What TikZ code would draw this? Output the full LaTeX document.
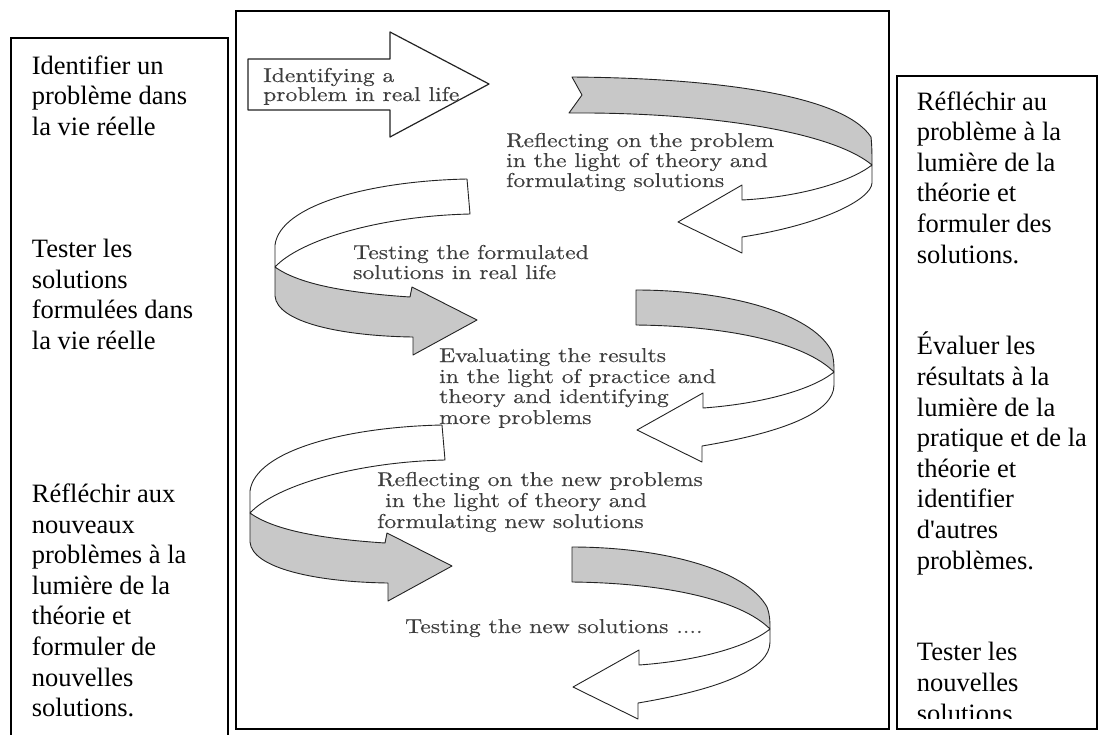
\documentclass[tikz,border=0pt]{standalone}
\usepackage{fontspec}
\newfontfamily\boxfont[Ligatures={TeXOff,CommonOff}]{Liberation Serif}
\newfontfamily\figfont[FakeStretch=1.18,FakeBold=0.35]{lmroman10-regular.otf}
\definecolor{ribbongray}{RGB}{200,200,200}
\definecolor{figtext}{RGB}{62,62,62}
\definecolor{outline}{RGB}{35,35,35}

\tikzset{
  boxframe/.style={draw=black, line width=1.6pt},
  ribbon/.style={draw=outline, line width=0.9pt, line join=round},
  backside/.style={ribbon, fill=ribbongray},
  frontside/.style={ribbon, fill=white},
  sidetext/.style={anchor=base west, inner sep=0pt,
    font=\boxfont\fontsize{26.5}{30.6}\selectfont},
  steptext/.style={anchor=base west, inner sep=0pt, text=figtext,
    font=\figfont\fontsize{20}{21}\selectfont},
}

% ribbon curling round to the right and coming back as a left-pointing arrow
\newcommand\rightcurl{%
  \filldraw[backside] (636,290) .. controls (725,290) and (810,312) .. (831,350)
    .. controls (834,358) and (834,365) .. (834,372)
    .. controls (805,343) and (730,326) .. (636,325) -- cycle;
  \filldraw[frontside] (834,372) .. controls (812,390) and (760,404) .. (703,408)
    -- (703,393) -- (637,430) -- (702,462) -- (702,446)
    .. controls (785,432) and (834,412) .. (834,385) -- cycle;
}
% ribbon curling round to the left and coming back as a right-pointing arrow
\newcommand\leftcurl{%
  \filldraw[frontside] (467,179) .. controls (370,181) and (280,205) .. (275,245)
    -- (275,267) .. controls (300,240) and (380,216) .. (470,214) -- cycle;
  \filldraw[backside] (275,267) .. controls (300,285) and (350,293) .. (410,297)
    -- (412,287) -- (477,320) -- (413,355) -- (413,337)
    .. controls (340,336) and (277,322) .. (275,296) -- cycle;
}

\begin{document}
\begin{tikzpicture}[x=1pt,y=-1pt]
\useasboundingbox (0,0) rectangle (1099,734);

% the three frames
\draw[boxframe] (11,740) -- (11,38) -- (228,38) -- (228,740);
\draw[boxframe] (236,11) rectangle (889,729);
\draw[boxframe] (897,76) rectangle (1097,729);

% straight arrow
\filldraw[frontside, line width=1.2pt] (248,59) -- (390,59) -- (390,32) -- (489,84)
  -- (390,137) -- (390,110) -- (248,110) -- cycle;

% first curl, with a notched tail
\filldraw[backside] (572,77) .. controls (705,78) and (842,93) .. (871,137)
  .. controls (872,146) and (872,156) .. (872,165)
  .. controls (830,130) and (700,112) .. (569,113) -- (582,95) -- cycle;
\filldraw[frontside] (872,165) .. controls (850,182) and (800,197) .. (742,200)
  -- (742,185) -- (678,222) -- (742,253) -- (742,237)
  .. controls (820,225) and (871,200) .. (872,183) -- cycle;

% the remaining curls
\leftcurl
\rightcurl
\begin{scope}[shift={(-25,246)}]\leftcurl\end{scope}
\begin{scope}[shift={(-64,257)}]\rightcurl\end{scope}

% steps of the cycle
\node[steptext] (id1) at (263,82) {Identifying a};
\node[steptext] (id2) at (263,101) {problem in real life};
\node[steptext] (refl1) at (506,147) {Reflecting on the problem};
\node[steptext] (refl2) at (506,167) {in the light of theory and};
\node[steptext] (refl3) at (506,187) {formulating solutions};
\node[steptext] (test1) at (353,259) {Testing the formulated};
\node[steptext] (test2) at (353,279) {solutions in real life};
\node[steptext] (eval1) at (439,362) {Evaluating the results};
\node[steptext] (eval2) at (439,383) {in the light of practice and};
\node[steptext] (eval3) at (439,403) {theory and identifying};
\node[steptext] (eval4) at (439,424) {more problems};
\node[steptext] (newr1) at (377,486) {Reflecting on the new problems};
\node[steptext] (newr2) at (385,507) {in the light of theory and};
\node[steptext] (newr3) at (377,528) {formulating new solutions};
\node[steptext] (newt1) at (405,633) {Testing the new solutions ....};

% French captions, left column
\foreach \k/\linetext in {0/Identifier un,1/problème dans,2/la vie réelle,
  6/Tester les,7/solutions,8/formulées dans,9/la vie réelle,
  14/Réfléchir aux,15/nouveaux,16/problèmes à la,17/lumière de la,
  18/théorie et,19/formuler de,20/nouvelles,21/solutions.}
  \node[sidetext] (left\k) at (31.7,{74+30.6*\k}) {\linetext};

% French captions, right column (last line cut off by the frame)
\begin{scope}
\clip (897,76) rectangle (1097,718);
\foreach \k/\linetext in {0/Réfléchir au,1/problème à la,2/lumière de la,
  3/théorie et,4/formuler des,5/solutions.,
  8/Évaluer les,9/résultats à la,10/lumière de la,11/pratique et de la,
  12/théorie et,13/identifier,14/d'autres,15/problèmes.,
  18/Tester les,19/nouvelles,20/solutions}
  \node[sidetext] (right\k) at (916.7,{110+30.6*\k}) {\linetext};
\end{scope}
\end{tikzpicture}
\end{document}
